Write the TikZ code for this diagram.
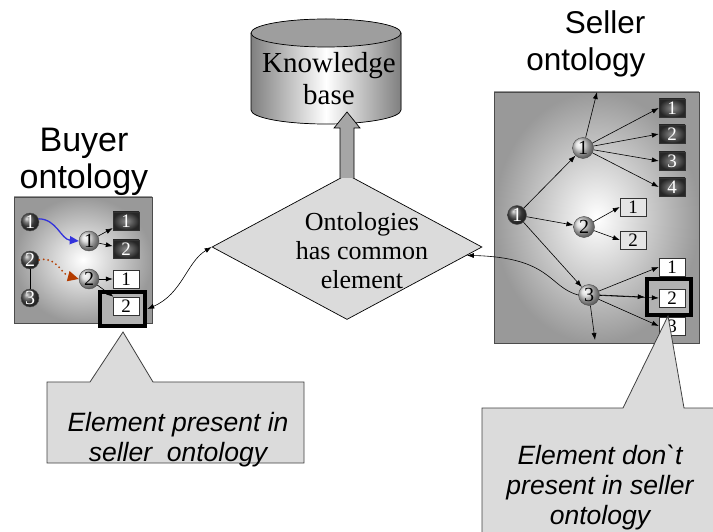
\documentclass[tikz,border=0pt]{standalone}
\usepackage{fontspec}
\setmainfont{Liberation Serif}
\setsansfont{Liberation Sans}
\usetikzlibrary{shapes.geometric,arrows.meta,positioning,calc}
\definecolor{bluearr}{RGB}{50,50,220}
\definecolor{brownarr}{RGB}{180,60,0}

\tikzset{
  darkball/.style={circle, draw=black!70, ball color=black!70, text=white, minimum size=18pt, inner sep=0pt, font=\fontsize{20}{20}\selectfont},
  lightball/.style={circle, draw=black!70, ball color=black!15, minimum size=20pt, inner sep=0pt, font=\fontsize{20}{20}\selectfont},
  darkbox/.style={rectangle, draw=black!80, inner color=black!45, outer color=black!85, text=white, minimum width=26pt, minimum height=18pt, inner sep=0pt, font=\fontsize{19}{19}\selectfont},
  whitebox/.style={rectangle, draw=black!80, fill=white, minimum width=26pt, minimum height=18pt, inner sep=0pt, font=\fontsize{19}{19}\selectfont},
  greybox/.style={whitebox, fill=black!10},
  pickbox/.style={rectangle, draw, line width=4.5pt, fill=black!30},
  arr/.style={-{Latex[length=7pt,width=5pt]}, line width=0.6pt},
  twoarr/.style={{Latex[length=7pt,width=5pt]}-{Latex[length=7pt,width=5pt]}, line width=0.6pt},
  panel/.style={draw=black!70, line width=0.8pt, inner color=white, outer color=black!40},
  callout/.style={draw=black!75, line width=0.8pt, fill=black!14},
  calltext/.style={font=\sffamily\itshape\fontsize{26.5}{30}\selectfont, align=center}
}

\begin{document}
\begin{tikzpicture}[x=1pt,y=1pt]
    \useasboundingbox (0,0) rectangle (713,531);

    % Knowledge base
    \fill[left color=black!50, right color=black!50, middle color=white] (251,498) -- (251,421)
        arc[start angle=180, end angle=360, x radius=75, y radius=14] -- (401,498)
        arc[start angle=0, end angle=180, x radius=75, y radius=14] -- cycle;
    \draw[line width=0.7pt] (251,498) -- (251,421)
        arc[start angle=180, end angle=360, x radius=75, y radius=14] -- (401,498);
    \draw[line width=0.7pt, fill=black!38] (326,498) ellipse[x radius=75, y radius=14];
    \node[font=\fontsize{29}{32}\selectfont, align=center] (kb) at (329,452) {Knowledge\\base};
    \coordinate (kbtip) at (347,419);

    % Ontologies has common element
    \node[diamond, draw, fill=black!14, minimum width=270pt, minimum height=145pt, inner sep=0pt, line width=0.7pt] (dm) at (347,284) {};
    \node[font=\fontsize{26}{29}\selectfont, align=center] (dmtext) at (362,280) {Ontologies\\has common\\element};
    \draw[fill=black!35, line width=0.7pt] ($(dm.north)+(-7,-3.8)$) -- ($(kbtip)+(-7,-16)$) -- ($(kbtip)+(-13,-16)$)
        -- (kbtip) -- ($(kbtip)+(13,-16)$) -- ($(kbtip)+(7,-16)$) -- ($(dm.north)+(7,-3.8)$);

    % Buyer ontology
    \node[font=\sffamily\fontsize{34}{37}\selectfont, align=center] (buyer) at (84,369) {Buyer\\ontology};
    \draw[panel] (14,208) rectangle (152,334);
    \node[darkball] (b1) at (30,309) {1};
    \node[darkball] (b2) at (30,271) {2};
    \node[darkball] (b3) at (30,233) {3};
    \node[lightball] (b1p) at (89,290) {1};
    \node[lightball] (b2p) at (89,252) {2};
    \node[darkbox] (bd1) at (126,310) {1};
    \node[darkbox] (bd2) at (126,282) {2};
    \node[whitebox] (bw1) at (126,252) {1};
    \node[pickbox, minimum width=45pt, minimum height=34pt] (bsel) at (122.5,222) {};
    \node[whitebox] (bw2) at (126,225) {2};

    \draw[line width=1pt] (b2) -- (b3);
    \draw[-{Triangle[length=9pt,width=8pt]}, draw=bluearr, line width=1.3pt] (b1.20) to[out=0, in=175] (b1p.west);
    \draw[-{Triangle[length=11pt,width=10pt]}, draw=brownarr, line width=2pt, line cap=round, dash pattern=on 0pt off 4.5pt] (b2.east) to[out=15, in=165] (b2p.west);
    \draw[arr] (b1p) -- (bd1);
    \draw[arr] (b1p) -- (bd2);
    \draw[arr] (b2p) -- (bw1);
    \draw[arr] (b2p) -- (bw2);

    % Seller ontology
    \node[font=\sffamily\fontsize{31.5}{37}\selectfont, align=right, anchor=east] (seller) at (649,487) {Seller\\ontology};
    \draw[panel] (494,188) rectangle (699,439);
    \coordinate (stop) at (597,439);
    \coordinate (sbot) at (595,191);
    \node[darkball, minimum size=19pt] (sr) at (517,316) {1};
    \node[lightball, minimum size=21pt] (s1) at (583,383) {1};
    \node[lightball, minimum size=21pt] (s2) at (584,304) {2};
    \node[lightball, minimum size=21pt] (s3) at (589,236) {3};
    \node[darkbox] (sd1) at (672,423) {1};
    \node[darkbox] (sd2) at (672,397) {2};
    \node[darkbox] (sd3) at (672,370) {3};
    \node[darkbox] (sd4) at (672,344) {4};
    \node[greybox] (sl1) at (633,324) {1};
    \node[greybox] (sl2) at (633,291) {2};
    \node[whitebox] (sw1) at (672,264) {1};
    \node[whitebox] (sw3) at (672,205) {3};
    \node[pickbox, minimum width=44pt, minimum height=36pt] (ssel) at (669,234) {};
    \node[whitebox] (sw2) at (672,233) {2};

    \draw[arr] (sr) -- (s1);
    \draw[arr] (sr) -- (s2);
    \draw[arr] (sr) -- (s3);
    \draw[arr] (s1) -- (stop);
    \foreach \k in {1,...,4}
        \draw[arr] (s1) -- (sd\k.west);
    \draw[arr] (s2) -- (sl1.west);
    \draw[arr] (s2) -- (sl2.west);
    \draw[arr] (s3) -- (sw1.west);
    \draw[arr] (s3) -- (sw2.west);
    \draw[arr] (s3) -- (sw3.west);
    \draw[arr] (s3) -- (sbot);

    % links to the diamond
    \draw[twoarr] (bsel.east) .. controls +(35,15) and +(-25,-15) .. (dm.west);
    \draw[{Latex[length=7pt,width=5pt]}-, line width=0.6pt] (dm.-4) .. controls +(85,-2) and +(-30,8) .. (s3.west);
    \draw[arr] (s3.east) -- (ssel.west);

    % callouts
    \draw[callout] (47,68) -- (47,149) -- (90,149) -- (123,199) -- (153,149) -- (304,149) -- (304,68) -- cycle;
    \node[calltext] (lefttext) at (178,91) {Element present in\\seller\ \ ontology};
    \draw[callout] (482,-3) -- (482,123) -- (623,123) -- (668,215) -- (684,123) -- (716,123) -- (716,-3) -- cycle;
    \node[calltext] (righttext) at (600,44) {Element don\textasciigrave t\\present in seller\\ontology};
\end{tikzpicture}
\end{document}
